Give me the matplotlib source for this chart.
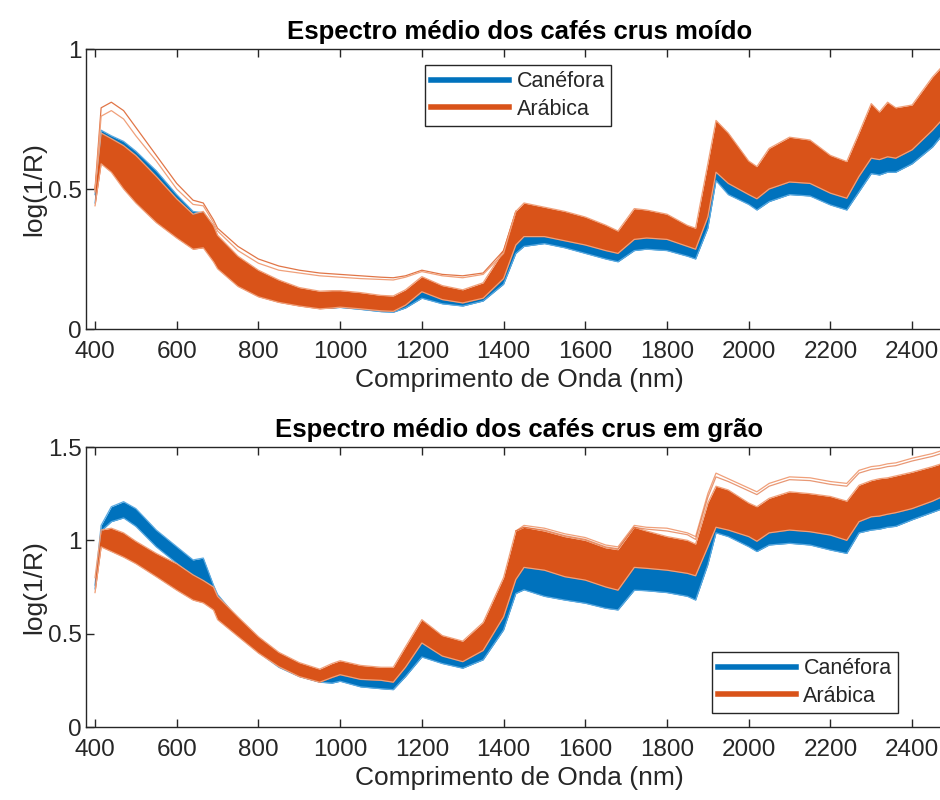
import numpy as np
import matplotlib
matplotlib.use("Agg")
import matplotlib.pyplot as plt
from matplotlib.lines import Line2D

#MATLAB default colours
Blue = "#0072BD"
Orange = "#D95319"
Blue_Edge = "#5AA9E0"
Orange_Edge = "#F0A07A"
Text_Col = "#262626"

#common wavelength grid (nm)
wl = [400, 415, 440, 470, 500, 550, 600, 640, 665, 690, 700, 750, 800, 850, 900,
      950, 980, 1000, 1050, 1100, 1130, 1160, 1200, 1250, 1300, 1350, 1400, 1430,
      1450, 1500, 1550, 1600, 1650, 1680, 1720, 1750, 1800, 1850, 1870, 1900, 1920,
      1950, 2000, 2020, 2050, 2100, 2150, 2200, 2240, 2270, 2300, 2320, 2340, 2360,
      2400, 2450, 2500]

#ground coffee - envelopes of the spectra
moido_arab_high = [0.50, 0.70, 0.68, 0.655, 0.62, 0.545, 0.465, 0.41, 0.42, 0.37, 0.335,
                   0.26, 0.21, 0.175, 0.148, 0.135, 0.137, 0.137, 0.13, 0.12, 0.118, 0.14,
                   0.187, 0.155, 0.14, 0.165, 0.28, 0.42, 0.45, 0.435, 0.42, 0.40, 0.371,
                   0.35, 0.43, 0.425, 0.41, 0.37, 0.36, 0.59, 0.745, 0.70, 0.60, 0.58,
                   0.645, 0.685, 0.675, 0.62, 0.598, 0.70, 0.805, 0.775, 0.81, 0.79, 0.80,
                   0.90, 0.98]
moido_arab_low = [0.44, 0.59, 0.56, 0.50, 0.45, 0.38, 0.325, 0.285, 0.29, 0.24, 0.215,
                  0.152, 0.115, 0.095, 0.082, 0.072, 0.075, 0.078, 0.072, 0.065, 0.063,
                  0.085, 0.133, 0.105, 0.093, 0.11, 0.18, 0.30, 0.33, 0.33, 0.315, 0.30,
                  0.28, 0.27, 0.32, 0.325, 0.32, 0.295, 0.285, 0.40, 0.56, 0.52, 0.48,
                  0.465, 0.50, 0.525, 0.52, 0.485, 0.467, 0.545, 0.61, 0.605, 0.615, 0.61,
                  0.64, 0.71, 0.79]
moido_cane_high = [0.48, 0.71, 0.69, 0.67, 0.635, 0.565, 0.48, 0.42, 0.415, 0.37, 0.33,
                   0.25, 0.20, 0.165, 0.14, 0.125, 0.125, 0.125, 0.115, 0.105, 0.103, 0.12,
                   0.16, 0.13, 0.12, 0.14, 0.22, 0.33, 0.355, 0.36, 0.345, 0.33, 0.31,
                   0.30, 0.35, 0.35, 0.345, 0.32, 0.31, 0.43, 0.59, 0.55, 0.51, 0.495,
                   0.53, 0.555, 0.55, 0.515, 0.495, 0.57, 0.64, 0.635, 0.645, 0.64, 0.67,
                   0.74, 0.82]
moido_cane_low = [0.45, 0.62, 0.60, 0.55, 0.50, 0.43, 0.36, 0.31, 0.315, 0.26, 0.235,
                  0.17, 0.125, 0.10, 0.085, 0.075, 0.075, 0.077, 0.07, 0.062, 0.06, 0.075,
                  0.11, 0.09, 0.082, 0.10, 0.16, 0.27, 0.295, 0.305, 0.29, 0.27, 0.25,
                  0.24, 0.28, 0.285, 0.28, 0.26, 0.25, 0.36, 0.53, 0.48, 0.445, 0.425,
                  0.455, 0.48, 0.475, 0.443, 0.425, 0.49, 0.555, 0.55, 0.56, 0.56, 0.59,
                  0.65, 0.74]

#two arabica samples sitting well above the rest (ground coffee)
wl_out_moido = [400, 415, 440, 470, 500, 550, 600, 640, 665, 690, 700, 750, 800, 850,
                900, 950, 1000, 1050, 1100, 1130, 1160, 1200, 1250, 1300, 1350, 1400, 1430]
moido_out1 = [0.50, 0.79, 0.81, 0.78, 0.72, 0.62, 0.52, 0.46, 0.45, 0.39, 0.36, 0.295,
              0.25, 0.225, 0.21, 0.20, 0.195, 0.19, 0.185, 0.183, 0.19, 0.21, 0.195,
              0.19, 0.20, 0.28, 0.42]
moido_out2 = [0.49, 0.76, 0.78, 0.75, 0.69, 0.60, 0.50, 0.445, 0.44, 0.38, 0.35, 0.28,
              0.235, 0.21, 0.20, 0.19, 0.185, 0.18, 0.177, 0.175, 0.185, 0.205, 0.19,
              0.183, 0.195, 0.27, 0.42]

#whole beans - envelopes of the spectra
grao_arab_high = [0.80, 1.055, 1.065, 1.04, 0.995, 0.93, 0.875, 0.815, 0.785, 0.75, 0.70,
                  0.59, 0.484, 0.40, 0.345, 0.31, 0.34, 0.355, 0.33, 0.32, 0.32, 0.43,
                  0.575, 0.49, 0.46, 0.56, 0.80, 1.05, 1.07, 1.05, 1.02, 1.0, 0.96, 0.95,
                  1.07, 1.05, 1.02, 1.0, 0.98, 1.2, 1.29, 1.27, 1.20, 1.18, 1.225, 1.26,
                  1.25, 1.235, 1.21, 1.295, 1.32, 1.33, 1.335, 1.345, 1.365, 1.395, 1.43]
grao_arab_low = [0.72, 0.965, 0.94, 0.91, 0.875, 0.805, 0.733, 0.68, 0.665, 0.627, 0.575,
                 0.485, 0.396, 0.323, 0.27, 0.24, 0.265, 0.28, 0.255, 0.25, 0.24, 0.32,
                 0.45, 0.38, 0.35, 0.41, 0.59, 0.79, 0.855, 0.84, 0.805, 0.787, 0.75,
                 0.733, 0.855, 0.85, 0.84, 0.823, 0.81, 0.965, 1.07, 1.055, 1.02, 0.995,
                 1.04, 1.055, 1.046, 1.028, 1.0, 1.10, 1.126, 1.13, 1.14, 1.148, 1.17,
                 1.21, 1.26]
grao_cane_high = [0.76, 1.08, 1.18, 1.207, 1.17, 1.055, 0.966, 0.895, 0.905, 0.76, 0.71,
                  0.58, 0.47, 0.38, 0.325, 0.29, 0.31, 0.325, 0.30, 0.29, 0.285, 0.38,
                  0.48, 0.42, 0.39, 0.46, 0.67, 0.85, 0.90, 0.88, 0.85, 0.83, 0.79, 0.775,
                  0.89, 0.885, 0.87, 0.85, 0.84, 1.0, 1.10, 1.09, 1.05, 1.03, 1.07, 1.085,
                  1.075, 1.06, 1.03, 1.12, 1.15, 1.155, 1.165, 1.17, 1.19, 1.23, 1.28]
grao_cane_low = [0.74, 1.05, 1.10, 1.12, 1.075, 0.965, 0.877, 0.805, 0.77, 0.66, 0.61,
                 0.50, 0.40, 0.32, 0.27, 0.24, 0.235, 0.245, 0.215, 0.205, 0.20, 0.27,
                 0.375, 0.34, 0.315, 0.36, 0.52, 0.715, 0.735, 0.70, 0.68, 0.663, 0.636,
                 0.627, 0.733, 0.73, 0.72, 0.70, 0.68, 0.87, 1.04, 1.02, 0.966, 0.94,
                 0.975, 0.984, 0.975, 0.948, 0.93, 1.04, 1.055, 1.06, 1.07, 1.075, 1.11,
                 1.15, 1.19]

#light arabica samples above the main band (whole beans)
wl_out_grao = [1430, 1450, 1500, 1550, 1600, 1650, 1680, 1720, 1750, 1800, 1850, 1870,
               1900, 1920, 1950, 2000, 2020, 2050, 2100, 2150, 2200, 2240, 2270, 2300,
               2320, 2340, 2360, 2400, 2450, 2500]
grao_out1 = [1.05, 1.08, 1.065, 1.035, 1.015, 0.975, 0.965, 1.08, 1.07, 1.065, 1.04, 1.02,
             1.25, 1.36, 1.33, 1.28, 1.26, 1.305, 1.34, 1.335, 1.315, 1.305, 1.375, 1.395,
             1.40, 1.41, 1.415, 1.44, 1.465, 1.50]
grao_out2 = [1.05, 1.07, 1.055, 1.025, 1.005, 0.965, 0.955, 1.07, 1.06, 1.05, 1.03, 1.005,
             1.23, 1.34, 1.315, 1.265, 1.245, 1.29, 1.325, 1.32, 1.30, 1.29, 1.36, 1.38,
             1.385, 1.395, 1.40, 1.425, 1.45, 1.485]

plt.rcParams["font.family"] = ["Liberation Sans", "DejaVu Sans"]


#Draw one class as a band of spectra with its lighter edge lines
def draw_band(ax, low, high, col, edge_col):
    ax.fill_between(wl, low, high, color=col, linewidth=0, zorder=2)
    ax.plot(wl, low, color=edge_col, linewidth=0.9, zorder=2, solid_joinstyle="round")
    ax.plot(wl, high, color=edge_col, linewidth=0.9, zorder=2, solid_joinstyle="round")


#Axis styling close to the MATLAB look
def style_axes(ax, title, yticks, ylim):
    ax.set_xlim(378, 2500)
    ax.set_ylim(*ylim)
    ax.set_xticks(range(400, 2500, 200))
    ax.set_yticks(yticks)
    ax.set_yticklabels([f"{v:g}" for v in yticks])
    ax.tick_params(direction="in", length=6, width=1, top=True, right=True,
                   labelsize=17.5, colors=Text_Col)
    ax.tick_params(axis="x", pad=9)
    ax.tick_params(axis="y", pad=3)
    for s in ax.spines.values():
        s.set_color(Text_Col)
        s.set_linewidth(1)
    ax.set_title(title, fontsize=18.5, fontweight="bold", color="black", pad=7)
    ax.set_xlabel("Comprimento de Onda (nm)", fontsize=19, color=Text_Col, labelpad=3)
    ax.set_ylabel("log(1/R)", fontsize=19, color=Text_Col, labelpad=1)


def add_legend(ax, anchor, loc):
    handles = [Line2D([], [], color=Blue, linewidth=4),
               Line2D([], [], color=Orange, linewidth=4)]
    leg = ax.legend(handles, ["Canéfora", "Arábica"], loc=loc, bbox_to_anchor=anchor,
                    fontsize=15.5, handlelength=3.6, handletextpad=0.35, borderpad=0.3,
                    labelspacing=0.3, fancybox=False, framealpha=1, borderaxespad=0)
    leg.get_frame().set_edgecolor(Text_Col)
    leg.get_frame().set_linewidth(1)
    for t in leg.get_texts():
        t.set_color(Text_Col)


fig = plt.figure(figsize=(9.4, 8), dpi=100)
ax1 = fig.add_axes([0.0915, 0.58875, 0.9223, 0.35])
ax2 = fig.add_axes([0.0915, 0.09125, 0.9223, 0.35])

#top panel: ground coffee
draw_band(ax1, moido_cane_low, moido_cane_high, Blue, Blue_Edge)
draw_band(ax1, moido_arab_low, moido_arab_high, Orange, Orange_Edge)
ax1.plot(wl_out_moido, moido_out1, color=Orange, linewidth=0.9, alpha=0.8, zorder=2)
ax1.plot(wl_out_moido, moido_out2, color=Orange_Edge, linewidth=0.9, zorder=2)
style_axes(ax1, "Espectro médio dos cafés crus moído", [0, 0.5, 1], (0, 1))
add_legend(ax1, (0.391, 0.943), "upper left")

#bottom panel: whole beans
draw_band(ax2, grao_cane_low, grao_cane_high, Blue, Blue_Edge)
draw_band(ax2, grao_arab_low, grao_arab_high, Orange, Orange_Edge)
ax2.plot(wl_out_grao, grao_out1, color=Orange_Edge, linewidth=0.9, zorder=2)
ax2.plot(wl_out_grao, grao_out2, color=Orange, linewidth=0.9, alpha=0.6, zorder=2)
style_axes(ax2, "Espectro médio dos cafés crus em grão", [0, 0.5, 1, 1.5], (0, 1.5))
add_legend(ax2, (0.722, 0.05), "lower left")

fig.savefig("out.png", dpi=100)
